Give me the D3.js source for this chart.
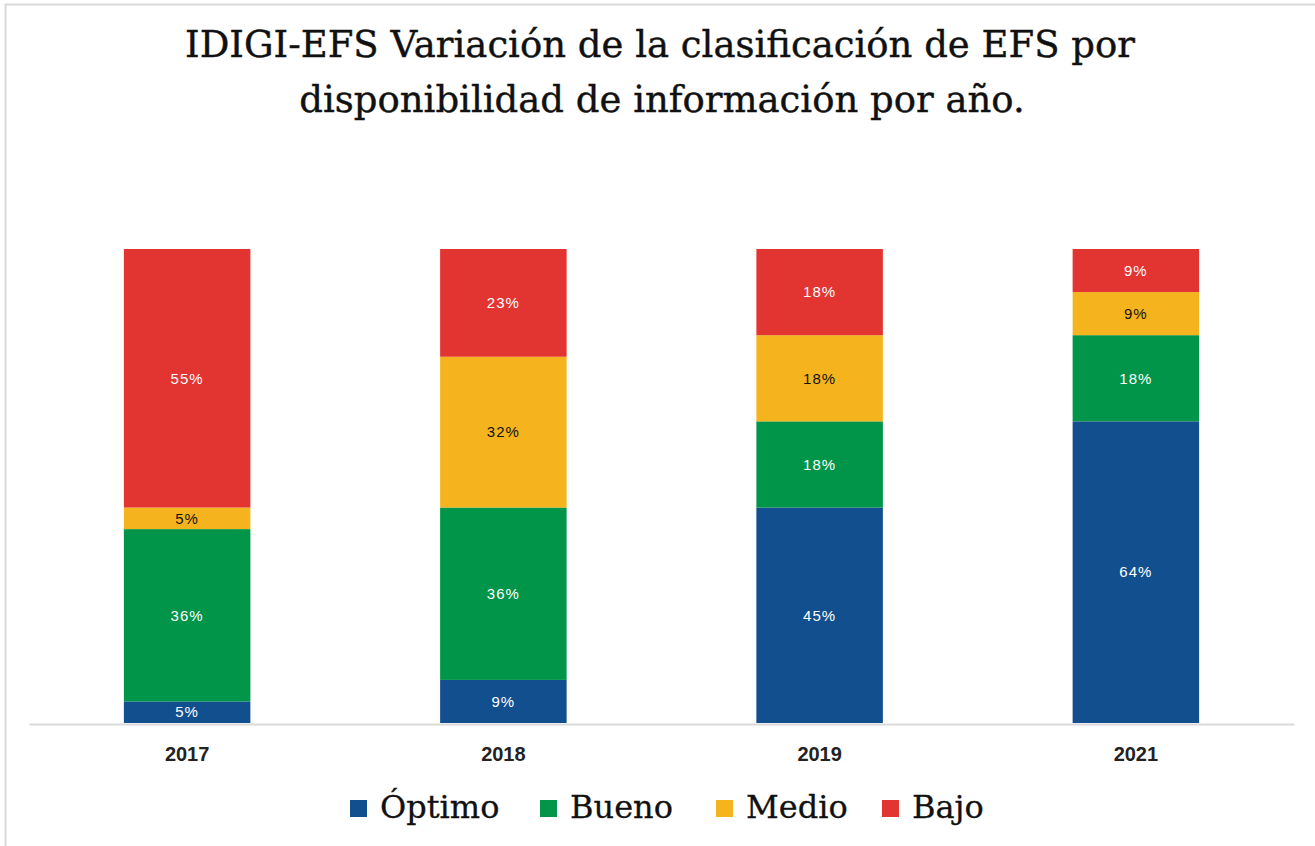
<!DOCTYPE html>
<html>
<head>
<meta charset="utf-8">
<script src="https://cdn.jsdelivr.net/npm/d3@7"></script>
<style>
  html, body { margin: 0; padding: 0; background: #fff; }
</style>
</head>
<body>
<div id="chart"></div>
<script>
// Data: share of EFS per classification, by year (percent)
const years = ["2017", "2018", "2019", "2021"];
const series = ["Óptimo", "Bueno", "Medio", "Bajo"];
const optimo = [4.55, 9.09, 45.45, 63.64];
const bueno = [36.36, 36.36, 18.18, 18.18];
const medio = [4.55, 31.82, 18.18, 9.09];
const bajo = [54.55, 22.73, 18.18, 9.09];

const colors = ["#124F8E", "#009548", "#F5B41D", "#E23431"];
const labelColors = ["#fff", "#fff", "#111", "#fff"];

const width = 1315, height = 846;

const rows = years.map((y, i) => ({
    year: y,
    "Óptimo": optimo[i],
    "Bueno": bueno[i],
    "Medio": medio[i],
    "Bajo": bajo[i]
}));

const stack = d3.stack().keys(series).offset(d3.stackOffsetExpand);
const layers = stack(rows);

const svg = d3.select("#chart")
    .append("svg")
    .attr("width", width)
    .attr("height", height);

// outer frame
svg.append("rect")
    .attr("x", 5.5).attr("y", 4.5)
    .attr("width", width).attr("height", height)
    .attr("fill", "#fff")
    .attr("stroke", "#d9d9d9")
    .attr("stroke-width", 2);

const x = d3.scaleBand()
    .domain(years)
    .range([29, 1294])
    .paddingInner(0.6)
    .paddingOuter(0.3);

const y = d3.scaleLinear()
    .domain([0, 1])
    .range([723, 249]);

// Title
const title = svg.append("text")
    .attr("text-anchor", "middle")
    .style("font-family", "'DejaVu Serif', serif")
    .style("font-size", "37px")
    .attr("fill", "#111")
    .attr("stroke", "#111")
    .attr("stroke-width", 0.4);
title.append("tspan").attr("x", 660).attr("y", 57)
    .text("IDIGI-EFS Variación de la clasificación de EFS por");
title.append("tspan").attr("x", 662).attr("y", 112)
    .text("disponibilidad de información por año.");

// Bars
const layer = svg.selectAll("g.layer")
    .data(layers)
    .join("g")
    .attr("class", "layer")
    .attr("fill", (d, i) => colors[i]);

layer.selectAll("rect")
    .data(d => d)
    .join("rect")
    .attr("x", d => x(d.data.year))
    .attr("width", x.bandwidth())
    .attr("y", d => y(d[1]))
    .attr("height", d => y(d[0]) - y(d[1]));

// Data labels
layer.each(function(L, i) {
    d3.select(this).selectAll("text")
        .data(L)
        .join("text")
        .attr("x", d => x(d.data.year) + x.bandwidth() / 2)
        .attr("y", d => (y(d[0]) + y(d[1])) / 2)
        .attr("dy", "0.35em")
        .attr("text-anchor", "middle")
        .style("font-family", "'Liberation Sans', sans-serif")
        .style("font-size", "15px")
        .style("letter-spacing", "1px")
        .attr("fill", labelColors[i])
        .text(d => Math.round(d.data[L.key]) + "%");
});

// X axis
const xAxis = svg.append("g")
    .attr("transform", "translate(0,724)")
    .call(d3.axisBottom(x).tickSize(0).tickPadding(23).tickSizeOuter(0));
xAxis.select(".domain").attr("stroke", "#d9d9d9").attr("stroke-width", 2);
xAxis.selectAll("text")
    .style("font-family", "'Liberation Sans', sans-serif")
    .style("font-size", "20px")
    .style("font-weight", "bold")
    .attr("fill", "#222");

// Legend
const legendX = [350, 540, 716, 882];
const legend = svg.append("g")
    .selectAll("g")
    .data(series)
    .join("g")
    .attr("transform", (d, i) => `translate(${legendX[i]},800)`);
legend.append("rect")
    .attr("width", 17).attr("height", 17)
    .attr("fill", (d, i) => colors[i]);
legend.append("text")
    .attr("x", 30).attr("y", 18)
    .style("font-family", "'DejaVu Serif', serif")
    .style("font-size", "32px")
    .attr("fill", "#111")
    .attr("stroke", "#111")
    .attr("stroke-width", 0.3)
    .text(d => d);
</script>
</body>
</html>
